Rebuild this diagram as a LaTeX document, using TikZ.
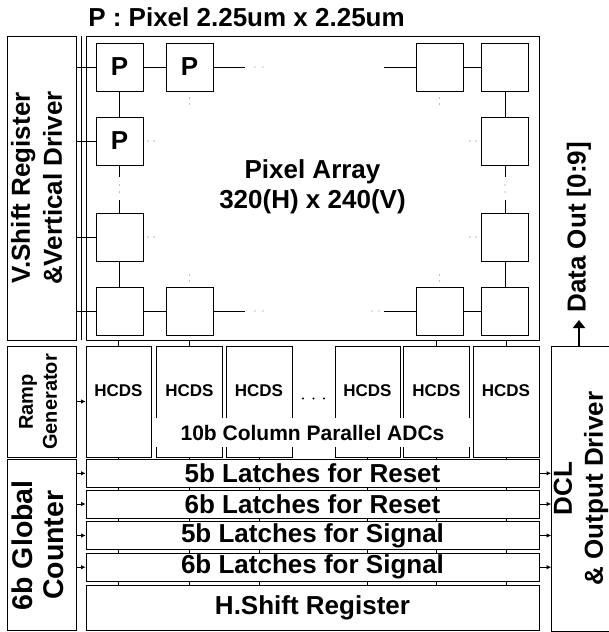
\documentclass[tikz,border=0pt]{standalone}
\usepackage{fontspec}
\setmainfont{Liberation Sans}
\usepackage{tikz}
\usetikzlibrary{arrows.meta,positioning}

\tikzset{
  blk/.style={draw, line width=0.8pt, inner sep=0pt},
  pix/.style={blk, minimum width=47pt, minimum height=48pt, font=\fontsize{26}{30}\selectfont\bfseries},
  bigtxt/.style={inner sep=0pt, font=\fontsize{26}{32}\selectfont\bfseries},
  midtxt/.style={inner sep=0pt, font=\fontsize{20.5}{24}\selectfont\bfseries},
  smalltxt/.style={inner sep=0pt, font=\fontsize{17}{20}\selectfont\bfseries},
  sarrow/.style={line width=0.8pt, -{Latex[length=4.5pt,width=4.5pt]}},
}

\begin{document}
\begin{tikzpicture}[x=1pt, y=-1pt, line width=0.8pt]
  \useasboundingbox (0,0) rectangle (609,632);
  \clip (0,0) rectangle (609,632);

  \node[bigtxt] (title) at (246.5,17.5) {P : Pixel 2.25um x 2.25um};

  % left side blocks
  \node[blk, minimum width=69pt, minimum height=304pt] (vsr) at (41.5,188) {};
  \node[bigtxt, rotate=90, align=center] (vsrtxt) at (36.5,188) {V.Shift Register\\\&Vertical Driver};
  \node[blk, minimum width=69pt, minimum height=111pt] (ramp) at (41.5,401.5) {};
  \node[midtxt, rotate=90, align=center, font=\fontsize{20}{24}\selectfont\bfseries] (ramptxt) at (38,402) {Ramp\\Generator};
  \node[blk, minimum width=69pt, minimum height=171pt] (gcnt) at (41.5,545.3) {};
  \node[bigtxt, rotate=90, align=center, font=\fontsize{28.5}{31}\selectfont\bfseries] (gcnttxt) at (37.5,545.3) {6b Global\\Counter};

  % pixel array
  \node[blk, minimum width=453pt, minimum height=304pt] (pa) at (312.5,188) {};
  \draw ([xshift=-4pt]pa.north west) -- ([xshift=-4pt]pa.south west);
  \node[bigtxt, align=center, font=\fontsize{26}{30}\selectfont\bfseries] (patxt) at (312.5,187) {Pixel Array\\320(H) x 240(V)};

  \foreach \n/\x/\y/\t in {11/119.5/67/P, 12/189.5/67/P, 1a/439.5/67/{}, 1b/505/67/{},
                           21/119.5/141/P, 2b/505/141/{}, 31/119.5/237/{}, 3b/505/237/{},
                           41/119.5/311/{}, 42/189.5/311/{}, 4a/439.5/311/{}, 4b/505/311/{}}
    \node[pix] (p\n) at (\x,\y) {\t};

  \foreach \r in {11,21,31,41}
    \draw (vsr.east |- p\r) -- (p\r.west);
  \draw (p11) -- (p12);
  \draw (p1a) -- (p1b);
  \draw (p41) -- (p42);
  \draw (p4a) -- (p4b);
  \draw (p11) -- (p21);
  \draw (p31) -- (p41);
  \draw (p1b) -- (p2b);
  \draw (p3b) -- (p4b);
  \draw (p21.south) -- ++(0,12);
  \draw (p31.north) -- ++(0,-13);
  \draw (p2b.south) -- ++(0,12);
  \draw (p3b.north) -- ++(0,-13);
  \draw (p12.east) -- ++(32,0);
  \draw (p42.east) -- ++(32,0);
  \draw (p1a.west) -- ++(-32,0);
  \draw (p4a.west) -- ++(-32,0);

  \foreach \x/\y in {255/67, 263/67, 255/311, 263/311, 372/311, 379/311,
                     148/141, 154/141, 148/237, 154/237, 470/141, 476/141, 470/237, 476/237,
                     189.5/98, 189.5/104, 439.5/98, 439.5/104, 189.5/275, 189.5/281,
                     439.5/275, 439.5/281, 119.5/185, 119.5/192, 505/185, 505/192}
    \fill[gray] (\x,\y) circle (0.7pt);

  % column parallel ADCs
  \foreach \i/\x/\w in {1/118.5/65pt, 2/189.5/66pt, 3/259/66pt, 4/367.5/65pt, 5/436.5/66pt, 6/506/66pt} {
    \node[blk, minimum width=\w, minimum height=111pt] (h\i) at (\x,401.5) {};
    \node[smalltxt] (ht\i) at (\x,391) {HCDS};
  }
  \foreach \x in {303,313.5,324}
    \fill (\x,398.5) circle (1.1pt);
  \node[fill=white, inner sep=0pt, minimum width=315pt, minimum height=29pt,
        font=\fontsize{21}{24}\selectfont\bfseries] (adc) at (312.5,432.5) {10b Column Parallel ADCs};
  \foreach \i in {1,2,5,6}
    \draw (h\i.north) -- (h\i.north |- pa.south);
  \draw[sarrow] (ramp.east |- h1) -- (h1.west);

  % latches
  \foreach \n/\y/\h/\t in {l1/473.3/28pt/5b Latches for Reset, l2/504/28pt/6b Latches for Reset,
                           l3/535.5/27.6pt/5b Latches for Signal, l4/567.2/27.7pt/6b Latches for Signal,
                           hsr/607.8/45.7pt/H.Shift Register}
    \node[blk, bigtxt, minimum width=453pt, minimum height=\h] (\n) at (312.5,\y) {\t};

  \foreach \i in {1,...,6} {
    \draw (h\i.south) -- (h\i |- l1.north);
    \draw (h\i |- l1.south) -- (h\i |- l2.north);
    \draw (h\i |- l2.south) -- (h\i |- l3.north);
    \draw (h\i |- l3.south) -- (h\i |- l4.north);
    \draw (h\i |- l4.south) -- (h\i |- hsr.north);
  }

  % output side
  \node[blk, minimum width=64pt, minimum height=285pt] (dcl) at (583.5,488.5) {};
  \node[bigtxt, rotate=90, align=center, font=\fontsize{26}{31}\selectfont\bfseries] (dcltxt) at (581,488.5) {DCL\\\& Output Driver};
  \foreach \n in {l1,l2,l3,l4} {
    \draw[sarrow] (gcnt.east |- \n) -- (\n.west);
    \draw[sarrow] (\n.east) -- (\n.east -| dcl.west);
  }
  \node[bigtxt, rotate=90, anchor=west, inner xsep=7pt, inner ysep=0pt] (dout) at (579,320) {Data Out [0:9]};
  \draw[line width=2.6pt, -{Triangle[length=8pt,width=12pt]}] (dcl.north -| dout.west) -- (dout.west);
\end{tikzpicture}
\end{document}
